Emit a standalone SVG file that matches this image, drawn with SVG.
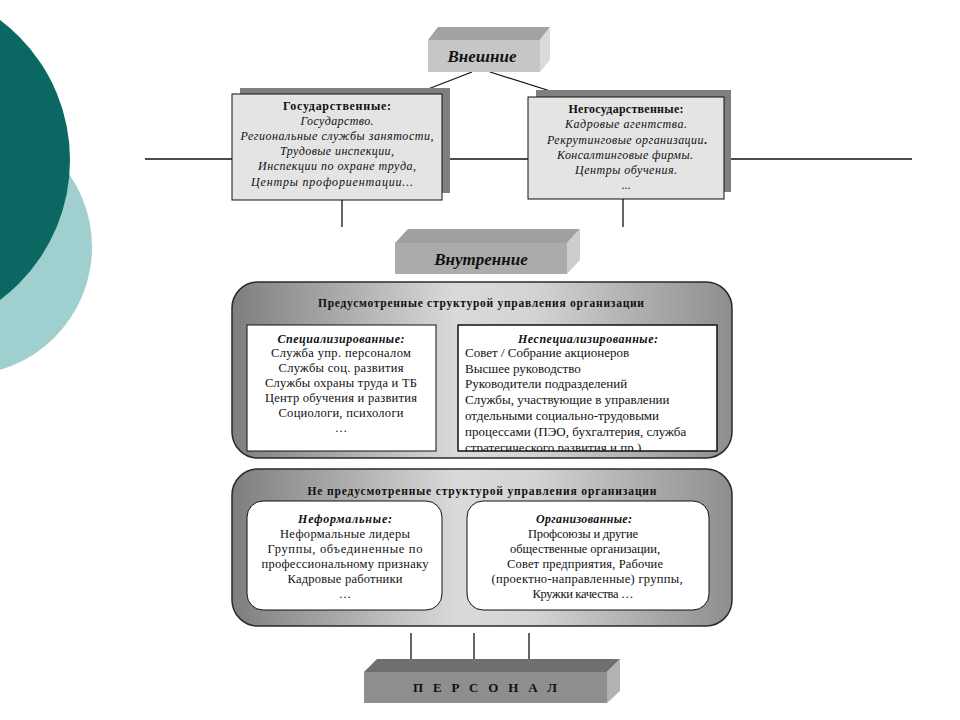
<svg xmlns="http://www.w3.org/2000/svg" width="960" height="720" viewBox="0 0 960 720">
<style>
.t{font-family:"Liberation Serif","DejaVu Serif",serif;fill:#111}
.c{text-anchor:middle}
.b{font-weight:bold}
.i{font-style:italic}
.s12{font-size:12.5px}
.s13{font-size:13px}
.ln{stroke:#111;stroke-width:1.3;fill:none}
.box{stroke:#111;stroke-width:1}
</style>
<defs>
<linearGradient id="pg" x1="0" y1="0" x2="1" y2="0">
<stop offset="0" stop-color="#7e7e7e"/>
<stop offset="0.45" stop-color="#dadada"/>
<stop offset="0.6" stop-color="#d4d4d4"/>
<stop offset="1" stop-color="#8e8e8e"/>
</linearGradient>
<clipPath id="cl"><rect x="458" y="325" width="259" height="126"/></clipPath>
</defs>
<rect width="960" height="720" fill="#fff"/>
<g id="bg">
<circle cx="-36" cy="247" r="128" fill="#9fd0cf"/>
<circle cx="-105" cy="160" r="175" fill="#0b6762"/>
</g>
<g id="connectors">
<line class="ln" x1="145" y1="159" x2="912" y2="159"/>
<line class="ln" x1="472" y1="72" x2="410" y2="96"/>
<line class="ln" x1="490" y1="72" x2="566" y2="96"/>
<line class="ln" x1="342" y1="200" x2="342" y2="227"/>
<line class="ln" x1="623" y1="199" x2="623" y2="227"/>
<line class="ln" x1="411" y1="633" x2="411" y2="666"/>
<line class="ln" x1="474" y1="633" x2="474" y2="666"/>
<line class="ln" x1="529" y1="633" x2="529" y2="666"/>
</g>
<g id="vneshnie">
<polygon points="428,40 438,27 550,27 540,40" fill="#a3a3a3"/>
<polygon points="540,40 550,27 550,60 540,72" fill="#dadada"/>
<rect x="428" y="40" width="112" height="32" fill="#c6c6c6"/>
<text class="t c b i" x="482" y="62" font-size="17">Внешние</text>
</g>
<g id="gos">
<rect x="240" y="88" width="210" height="105" fill="#7f7f7f"/>
<rect class="box" x="232" y="94" width="210" height="106" fill="#e4e4e4"/>
<text class="t c b" x="337" y="110" font-size="12" textLength="108">Государственные:</text>
<text class="t c i" x="337" y="125" font-size="12" textLength="73">Государство.</text>
<text class="t c i" x="337" y="140" font-size="12" textLength="193">Региональные службы занятости,</text>
<text class="t c i" x="337" y="155" font-size="12" textLength="114">Трудовые инспекции,</text>
<text class="t c i" x="337" y="170" font-size="12" textLength="158">Инспекции по охране труда,</text>
<text class="t c i" x="332" y="186" font-size="12" textLength="162">Центры профориентации...</text>
</g>
<g id="negos">
<rect x="536" y="90" width="195" height="102" fill="#7f7f7f"/>
<rect class="box" x="528" y="97" width="196" height="102" fill="#e4e4e4"/>
<text class="t c b" x="626" y="113" font-size="12" textLength="115">Негосударственные:</text>
<text class="t c i" x="626" y="128" font-size="12" textLength="122">Кадровые агентства.</text>
<text class="t c i" x="627" y="144" font-size="12" textLength="160">Рекрутинговые организации<tspan font-weight="bold" font-style="normal">.</tspan></text>
<text class="t c i" x="625" y="159" font-size="12" textLength="136">Консалтинговые фирмы.</text>
<text class="t c i" x="626" y="174" font-size="12" textLength="102">Центры обучения.</text>
<text class="t c" x="626" y="189" font-size="12">...</text>
</g>
<g id="vnutrennie">
<polygon points="395,243 408,229 580,229 567,243" fill="#a0a0a0"/>
<polygon points="567,243 580,229 580,260 567,274" fill="#cdcdcd"/>
<rect x="395" y="243" width="172" height="31" fill="#ababab"/>
<text class="t c b i" x="481" y="265" font-size="17">Внутренние</text>
</g>
<g id="panel1">
<rect x="232" y="282" width="500" height="176" rx="26" fill="url(#pg)" stroke="#2a2a2a" stroke-width="1.5"/>
<text class="t c b" x="481" y="307" font-size="11.5" textLength="326">Предусмотренные структурой управления организации</text>
</g>
<g id="spec">
<rect class="box" x="247" y="325" width="189" height="126" fill="#fff"/>
<text class="t c b i" x="341" y="343" font-size="12" textLength="127">Специализированные:</text>
<text class="t c s12" x="341" y="357" textLength="140">Служба упр. персоналом</text>
<text class="t c s12" x="341" y="372" textLength="125">Службы соц. развития</text>
<text class="t c s12" x="341" y="387" textLength="152">Службы охраны труда и ТБ</text>
<text class="t c s12" x="341" y="402" textLength="152">Центр обучения и развития</text>
<text class="t c s12" x="341" y="417" textLength="125">Социологи, психологи</text>
<text class="t c s12" x="341" y="432">…</text>
</g>
<g id="nespec">
<rect class="box" x="458" y="325" width="259" height="126" fill="#fff"/>
<text class="t c b i" x="588" y="343" font-size="12" textLength="140">Неспециализированные:</text>
<g class="t s13">
<text x="465" y="357">Совет / Собрание акционеров</text>
<text x="465" y="373">Высшее руководство</text>
<text x="465" y="388">Руководители подразделений</text>
<text x="465" y="404">Службы, участвующие в управлении</text>
<text x="465" y="420">отдельными социально-трудовыми</text>
<text x="465" y="436">процессами (ПЭО, бухгалтерия, служба</text>
<text x="465" y="452" clip-path="url(#cl)">стратегического развития и пр.) …</text>
</g>
<rect x="458" y="325" width="259" height="126" fill="none" stroke="#111"/>
</g>
<g id="panel2">
<rect x="232" y="469" width="500" height="157" rx="26" fill="url(#pg)" stroke="#2a2a2a" stroke-width="1.5"/>
<text class="t c b" x="482" y="495" font-size="11.5" textLength="349">Не предусмотренные структурой управления организации</text>
</g>
<g id="neform">
<rect class="box" x="247" y="501" width="195" height="109" rx="16" fill="#fff"/>
<text class="t c b i" x="345" y="523" font-size="12" textLength="94">Неформальные:</text>
<text class="t c s12" x="345" y="538" textLength="130">Неформальные лидеры</text>
<text class="t c s12" x="345" y="553" textLength="155">Группы, объединенные по</text>
<text class="t c s12" x="345" y="568" textLength="167">профессиональному признаку</text>
<text class="t c s12" x="345" y="583" textLength="115">Кадровые работники</text>
<text class="t c s12" x="345" y="598">…</text>
</g>
<g id="organiz">
<rect class="box" x="467" y="501" width="242" height="109" rx="16" fill="#fff"/>
<text class="t c b i" x="584" y="523" font-size="12" textLength="96">Организованные:</text>
<text class="t c s12" x="583" y="538" textLength="110">Профсоюзы и другие</text>
<text class="t c s12" x="585" y="553" textLength="150">общественные организации,</text>
<text class="t c s12" x="585" y="568" textLength="156">Совет предприятия, Рабочие</text>
<text class="t c s12" x="587" y="583" textLength="191">(проектно-направленные) группы,</text>
<text class="t c s12" x="583" y="598" textLength="101">Кружки качества …</text>
</g>
<g id="personal">
<polygon points="364,672 377,659 620,659 607,672" fill="#6f6f6f"/>
<polygon points="607,672 620,659 620,691 607,703" fill="#b2b2b2"/>
<rect x="364" y="672" width="243" height="31" fill="#8e8e8e"/>
<text class="t c b" x="485" y="692" font-size="13" fill="#1a1a1a" textLength="144">П Е Р С О Н А Л</text>
</g>
</svg>
